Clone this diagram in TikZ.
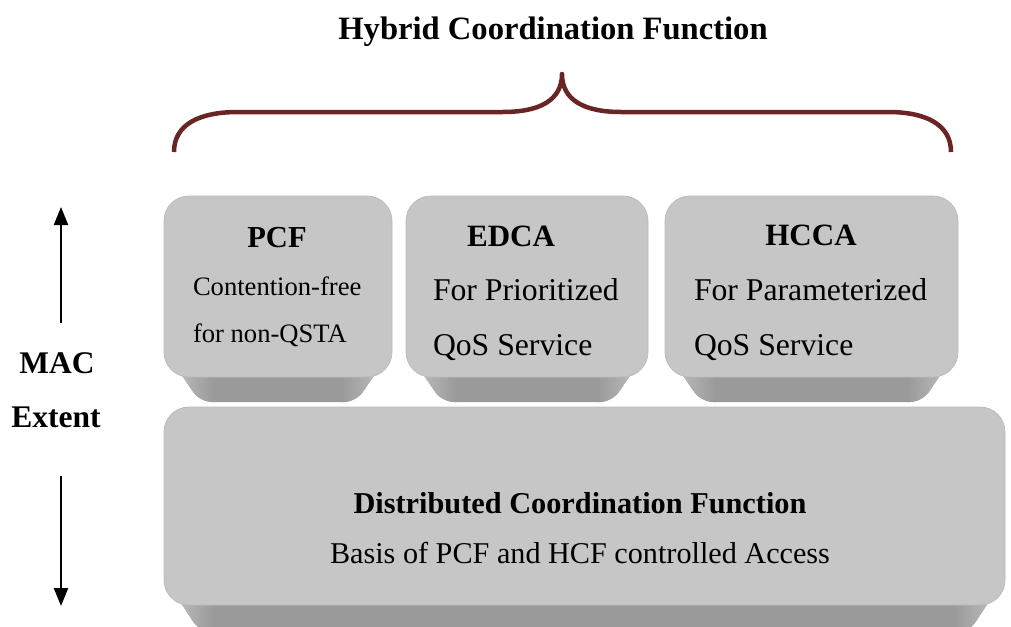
\documentclass[tikz,border=0pt]{standalone}
\usepackage{fontspec}
\setmainfont{Liberation Serif}
\usetikzlibrary{arrows.meta}

\definecolor{capface}{HTML}{C6C6C6}
\definecolor{capedge}{HTML}{BCBCBC}
\definecolor{capbevel}{HTML}{9A9A9A}
\definecolor{capside}{HTML}{C8C8C8}
\definecolor{bracered}{HTML}{6A2424}

% A raised key: rounded face from (x1,y1) to (x2,y2) on top of a
% bevel that narrows down to the line y = #6.
\newcommand\keycap[6]{%
  \begin{scope}
    \path[clip, rounded corners=12pt]
      (#2,#5-28) -- (#2+36,#6) -- (#4-36,#6) -- (#4,#5-28) -- cycle;
    \fill[capbevel] (#2-2,#5-32) rectangle (#4+2,#6+2);
    \shade[left color=capside, right color=capbevel]
      (#2-2,#5-32) rectangle (#2+50,#6+2);
    \shade[left color=capbevel, right color=capside]
      (#4-50,#5-32) rectangle (#4+2,#6+2);
  \end{scope}
  \draw[draw=capedge, line width=0.8pt, fill=capface, rounded corners=25pt]
    (#2,#3) rectangle (#4,#5);
  \coordinate (#1) at ({(#2+#4)/2},{(#3+#5)/2});
}

\tikzset{
  txt/.style={inner sep=0pt, outer sep=0pt, font=\fontsize{#1}{#1}\selectfont},
  boldtxt/.style={inner sep=0pt, outer sep=0pt, font=\fontsize{#1}{#1}\selectfont\bfseries},
  extent/.style={line width=2.4pt, -{Triangle[width=14pt,length=18pt]}},
  brace/.style={draw=bracered, line width=4.5pt, line cap=butt, line join=round},
}

\begin{document}
\begin{tikzpicture}[x=1pt, y=-1pt]
  \useasboundingbox (0,0) rectangle (1011,626);

  % title and brace
  \node[boldtxt=32.6, anchor=base] (hcf) at (553,40) {Hybrid Coordination Function};
  \coordinate (bl) at (174,152);
  \coordinate (btip) at (562,74);
  \coordinate (br) at (951,152);
  \draw[brace] (bl) .. controls (174,124) and (200,112) .. (238,112)
    -- (503,112) .. controls (540,112) and (562,100) .. (btip)
    .. controls (562,100) and (584,112) .. (621,112)
    -- (888,112) .. controls (925,112) and (951,124) .. (br);

  % keys
  \keycap{pcf}{164}{196}{392}{377}{402}
  \keycap{edca}{406}{196}{648}{377}{402}
  \keycap{hcca}{665}{196}{958}{377}{402}
  \keycap{dcf}{164}{407}{1005}{605}{632}

  % PCF
  \node[boldtxt=30.5, anchor=base] (pcft) at (277,247) {PCF};
  \node[txt=26.6, anchor=base west] (pcf1) at (193,295) {Contention-free};
  \node[txt=26.6, anchor=base west] (pcf2) at (193,342) {for non-QSTA};

  % EDCA
  \node[boldtxt=31, anchor=base] (edcat) at (511,246) {EDCA};
  \node[txt=31.7, anchor=base west] (edca1) at (433,300) {For Prioritized};
  \node[txt=31.7, anchor=base west] (edca2) at (433,355) {QoS Service};

  % HCCA
  \node[boldtxt=31, anchor=base] (hccat) at (811,245) {HCCA};
  \node[txt=31.7, anchor=base west] (hcca1) at (694,300) {For Parameterized};
  \node[txt=31.7, anchor=base west] (hcca2) at (694,355) {QoS Service};

  % DCF
  \node[boldtxt=30.3, anchor=base] (dcft) at (580,513) {Distributed Coordination Function};
  \node[txt=30.2, anchor=base] (dcf1) at (580,563) {Basis of PCF and HCF controlled Access};

  % MAC extent
  \node[boldtxt=31.5, anchor=base] (mac) at (57,373) {MAC};
  \node[boldtxt=31.5, anchor=base] (ext) at (56,427) {Extent};
  \coordinate (upfrom) at (61,323);
  \coordinate (upto) at (61,207);
  \coordinate (dnfrom) at (61,476);
  \coordinate (dnto) at (61,606);
  \draw[extent] (upfrom) -- (upto);
  \draw[extent] (dnfrom) -- (dnto);
\end{tikzpicture}
\end{document}
